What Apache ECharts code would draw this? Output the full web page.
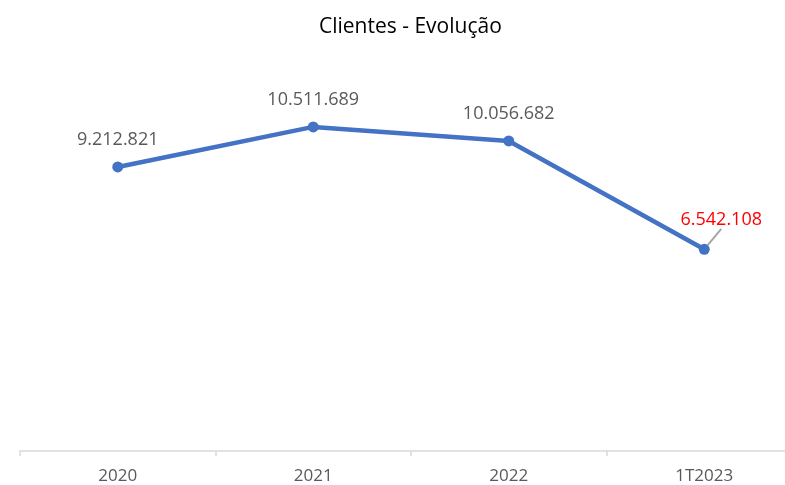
<!DOCTYPE html>
<html>
<head>
<meta charset="utf-8">
<script src="https://cdn.jsdelivr.net/npm/echarts@6/dist/echarts.min.js"></script>
<style>
  html, body { margin: 0; padding: 0; background: #fff; }
  #chart { width: 785px; height: 485px; }
</style>
</head>
<body>
<div id="chart"></div>
<script>
  var categories = ['2020', '2021', '2022', '1T2023']
  var clientes = [9212821, 10511689, 10056682, 6542108]

  function fmt(v) {
    return String(v).replace(/\B(?=(\d{3})+(?!\d))/g, '.')
  }

  var chart = echarts.init(document.getElementById('chart'))
  var lastIdx = clientes.length - 1

  chart.setOption({
    animation: false,
    textStyle: { fontFamily: 'Open Sans' },
    title: {
      text: 'Clientes - Evolução',
      left: 314,
      top: 12,
      textStyle: { fontFamily: 'Open Sans', fontSize: 21, fontWeight: 'normal', color: '#000' }
    },
    // plot area runs past the right edge, like the original
    grid: { left: 20, width: 782, top: 81, height: 370, outerBoundsMode: 'none' },
    xAxis: {
      type: 'category',
      data: categories,
      boundaryGap: true,
      axisLine: { lineStyle: { color: '#d9d9d9', width: 1.5 } },
      axisTick: { show: true, length: 5, lineStyle: { color: '#d9d9d9', width: 1.5 } },
      axisLabel: { color: '#595959', fontSize: 17, margin: 17 }
    },
    yAxis: {
      type: 'value',
      min: 0,
      max: 12000000,
      show: false,
      splitLine: { show: false }
    },
    series: [{
      type: 'line',
      data: clientes.map(function (v, i) {
        var item = { value: v }
        if (i === lastIdx) {
          item.label = { color: '#ff0000' }
          item.labelLine = { show: true, lineStyle: { color: '#a6a6a6', width: 2 } }
        }
        return item
      }),
      symbol: 'circle',
      symbolSize: 11,
      itemStyle: { color: '#4472c4' },
      lineStyle: { color: '#4472c4', width: 4.5 },
      label: {
        show: true,
        position: 'top',
        distance: 13,
        color: '#595959',
        fontSize: 18,
        formatter: function (p) { return fmt(p.value) }
      },
      labelLayout: function (p) {
        if (p.dataIndex === lastIdx) {
          return { dx: 17, dy: -2 }
        }
        return {}
      },
      labelLine: { show: false }
    }]
  })
</script>
</body>
</html>
